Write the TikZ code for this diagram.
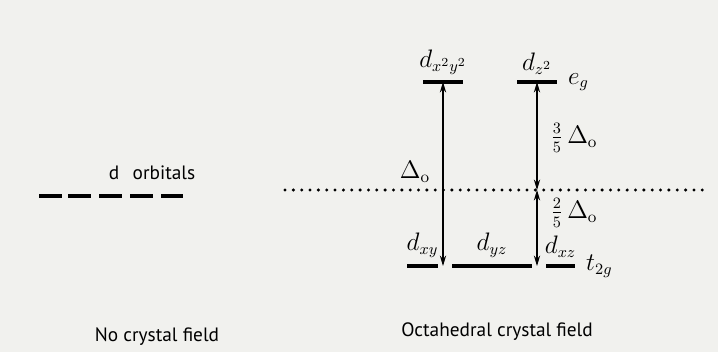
\documentclass[tikz,border=0pt]{standalone}
\usepackage{fontspec}
\setsansfont{PT Sans}
\usetikzlibrary{arrows.meta, positioning}
\definecolor{paper}{RGB}{241,241,238}

\begin{document}
\begin{tikzpicture}[
  x=0.02cm, y=-0.02cm,
  font=\sffamily,
  level/.style={fill=black, inner sep=0pt, minimum height=2pt},
  tag/.style={inner sep=1pt, font=\fontsize{13.5}{15}\selectfont},
  split/.style={{Stealth[length=6pt,width=3.6pt,inset=2pt]}-{Stealth[length=6pt,width=3.6pt,inset=2pt]}, semithick},
  caption/.style={font=\sffamily\fontsize{11}{13}\selectfont}
]
\fill[paper] (0,0) rectangle (718,352);

%% No crystal field
\foreach \cx [count=\i] in {50.5,79.5,110.5,141.5,172}
  \node[level, minimum width=0.46cm, minimum height=2.6pt] (d\i) at (\cx,196) {};
\node[caption] (dlab) at (152,173) {d\hspace{0.7em}orbitals};
\node[caption] (nocf) at (157,337) {No crystal field};

%% Octahedral crystal field: e_g
\node[level, minimum width=0.8cm] (dx2y2) at (443,82) {};
\node[level, minimum width=0.8cm] (dz2)   at (537,82) {};
\node[tag, above=2pt of dx2y2] (lx2y2) {$d_{x^2y^2}$};
\node[tag, above=2pt of dz2]   (lz2)   {$d_{z^2}$};
\node[tag, right=5pt of dz2]   (eg)    {$e_g$};

%% t_2g
\node[level, minimum width=0.62cm, minimum height=2.8pt] (dxy) at (422.5,266) {};
\node[level, minimum width=1.6cm,  minimum height=2.8pt] (dyz) at (492,266) {};
\node[level, minimum width=0.58cm, minimum height=2.8pt] (dxz) at (560.5,266) {};
\node[tag, above=2pt of dxy] (lxy) {$d_{xy}$};
\node[tag, above=2pt of dyz] (lyz) {$d_{yz}$};
\node[tag, above=2pt of dxz] (lxz) {$d_{xz}$};
\node[tag, right=5pt of dxz] (t2g) {$t_{2g}$};

%% barycentre
\coordinate (dl)   at (285,190);
\coordinate (dr)   at (705,190);
\coordinate (mid)  at (537,190);
\coordinate (gap1) at (443,266);
\coordinate (gap2) at (537,266);
\draw[line width=1.9pt, line cap=round, dash pattern=on 0pt off 4.75pt] (dl) -- (dr);

%% splitting
\draw[split] (gap1) -- (dx2y2.center);
\draw[split] (mid) -- (dz2.center);
\draw[split] (gap2) -- (mid);
\node[tag] (delta) at (415,172) {$\Delta_{\mathrm{o}}$};
\node[tag] (up)   at (574,138) {$\frac{3}{5}\,\Delta_{\mathrm{o}}$};
\node[tag] (down) at (574,213) {$\frac{2}{5}\,\Delta_{\mathrm{o}}$};

\node[caption] (octcf) at (497,332) {Octahedral crystal field};
\end{tikzpicture}
\end{document}
